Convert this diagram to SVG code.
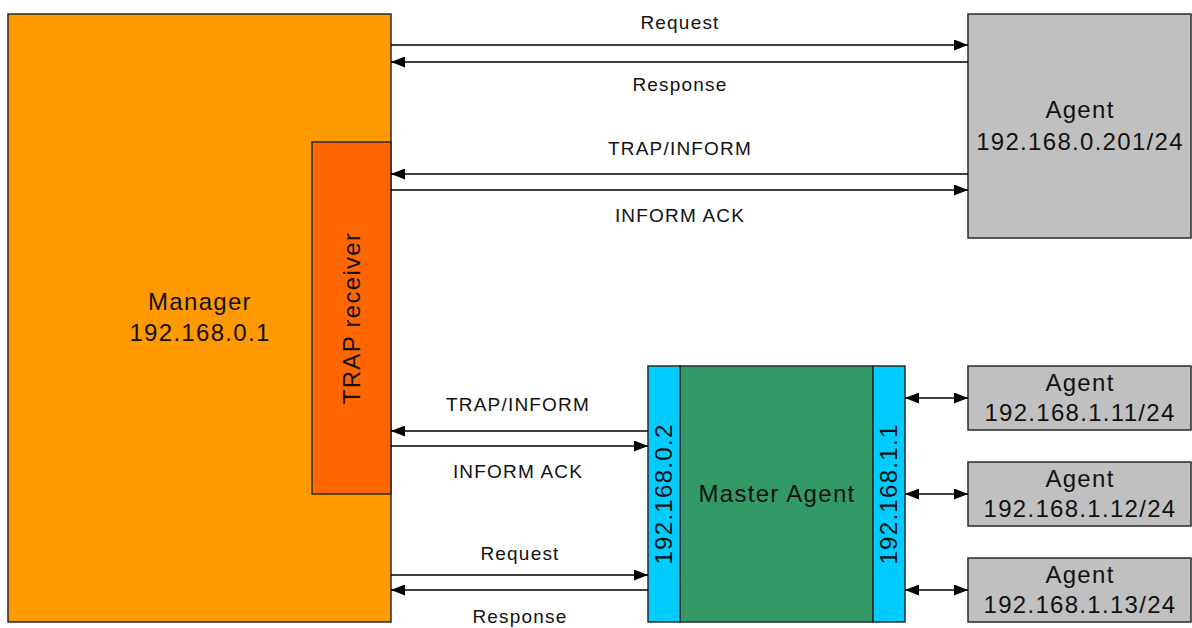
<svg xmlns="http://www.w3.org/2000/svg" width="1192" height="628" viewBox="0 0 1192 628">
<defs>
<marker id="ah" viewBox="0 0 14 11" refX="14" refY="5.5" markerWidth="14" markerHeight="11" markerUnits="userSpaceOnUse" orient="auto-start-reverse">
<path d="M0,0 L14,5.5 L0,11 z" fill="#000"/>
</marker>
<style>
.box{stroke:#2a2a2a;stroke-width:1.5}
.big{font-family:"Liberation Sans",Arial,sans-serif;font-size:24px;letter-spacing:1.3px;fill:#111;text-anchor:middle}
.lbl{font-family:"Liberation Sans",Arial,sans-serif;font-size:19px;letter-spacing:1.2px;fill:#111;text-anchor:middle}
.ln{stroke:#000;stroke-width:1.5;fill:none}
</style>
</defs>
<rect width="1192" height="628" fill="#fff"/>
<g id="manager">
<rect class="box" x="8" y="14" width="383" height="608" fill="#ff9900"/>
<text class="big" x="200" y="310">Manager</text>
<text class="big" x="200" y="341">192.168.0.1</text>
</g>
<g id="trap-receiver">
<rect class="box" x="312" y="142" width="79" height="352" fill="#ff6600"/>
<text class="big" transform="translate(360,318) rotate(-90)" x="0" y="0">TRAP receiver</text>
</g>
<g id="agent-top">
<rect class="box" x="968" y="14" width="223" height="224" fill="#c0c0c0"/>
<text class="big" x="1080" y="118">Agent</text>
<text class="big" x="1080" y="150">192.168.0.201/24</text>
</g>
<g id="master-agent">
<rect class="box" x="680" y="366" width="193" height="256" fill="#339966"/>
<text class="big" x="777" y="502">Master Agent</text>
</g>
<g id="if-left">
<rect class="box" x="648" y="366" width="32" height="256" fill="#00ccff"/>
<text class="big" transform="translate(672,494) rotate(-90)" x="0" y="0">192.168.0.2</text>
</g>
<g id="if-right">
<rect class="box" x="873" y="366" width="32" height="256" fill="#00ccff"/>
<text class="big" transform="translate(897,494) rotate(-90)" x="0" y="0">192.168.1.1</text>
</g>
<g id="agent-11">
<rect class="box" x="968" y="366" width="223" height="64" fill="#c0c0c0"/>
<text class="big" x="1080" y="391">Agent</text>
<text class="big" x="1080" y="421">192.168.1.11/24</text>
</g>
<g id="agent-12">
<rect class="box" x="968" y="462" width="223" height="64" fill="#c0c0c0"/>
<text class="big" x="1080" y="487">Agent</text>
<text class="big" x="1080" y="517">192.168.1.12/24</text>
</g>
<g id="agent-13">
<rect class="box" x="968" y="558" width="223" height="64" fill="#c0c0c0"/>
<text class="big" x="1080" y="583">Agent</text>
<text class="big" x="1080" y="613">192.168.1.13/24</text>
</g>
<g id="connectors">
<line class="ln" x1="391" y1="45" x2="968" y2="45" marker-end="url(#ah)"/>
<line class="ln" x1="968" y1="62" x2="391" y2="62" marker-end="url(#ah)"/>
<line class="ln" x1="968" y1="174" x2="391" y2="174" marker-end="url(#ah)"/>
<line class="ln" x1="391" y1="190" x2="968" y2="190" marker-end="url(#ah)"/>
<line class="ln" x1="648" y1="431" x2="391" y2="431" marker-end="url(#ah)"/>
<line class="ln" x1="391" y1="446" x2="648" y2="446" marker-end="url(#ah)"/>
<line class="ln" x1="391" y1="575" x2="648" y2="575" marker-end="url(#ah)"/>
<line class="ln" x1="648" y1="590" x2="391" y2="590" marker-end="url(#ah)"/>
<line class="ln" x1="905" y1="398" x2="968" y2="398" marker-start="url(#ah)" marker-end="url(#ah)"/>
<line class="ln" x1="905" y1="494" x2="968" y2="494" marker-start="url(#ah)" marker-end="url(#ah)"/>
<line class="ln" x1="905" y1="590" x2="968" y2="590" marker-start="url(#ah)" marker-end="url(#ah)"/>
<text class="lbl" x="680" y="29">Request</text>
<text class="lbl" x="680" y="91">Response</text>
<text class="lbl" x="680" y="155">TRAP/INFORM</text>
<text class="lbl" x="680" y="222">INFORM ACK</text>
<text class="lbl" x="518" y="411">TRAP/INFORM</text>
<text class="lbl" x="518" y="478">INFORM ACK</text>
<text class="lbl" x="520" y="560">Request</text>
<text class="lbl" x="520" y="623">Response</text>
</g>
</svg>
